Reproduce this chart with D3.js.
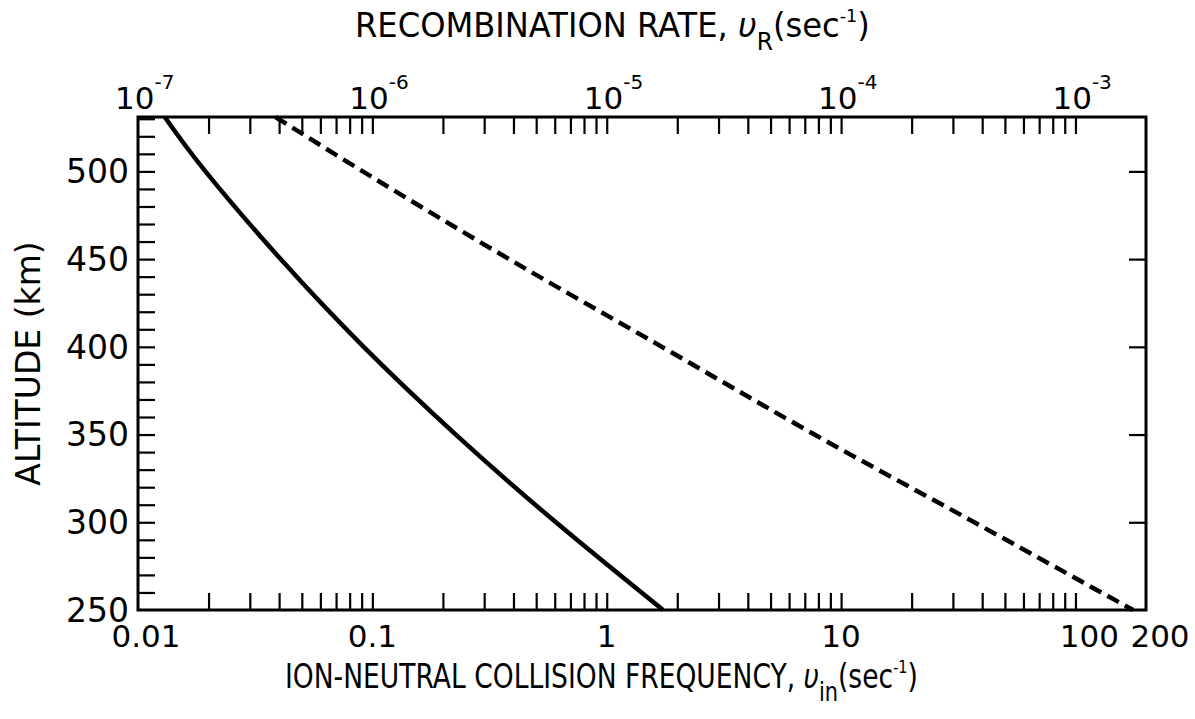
<!DOCTYPE html>
<html>
<head>
<meta charset="utf-8">
<script src="https://cdn.jsdelivr.net/npm/d3@7"></script>
<style>
  html, body { margin: 0; padding: 0; background: #fff; }
  svg { display: block; }
  text { font-family: "DejaVu Sans", sans-serif; fill: #000; }
</style>
</head>
<body>
<svg id="chart" width="1195" height="719"></svg>
<script>
// ---------------- data ----------------
const altitudes = [531, 500, 450, 400, 350, 300, 250];                          // km
const collisionFreq = [0.0130, 0.0194, 0.0406, 0.0918, 0.227, 0.607, 1.74];      // nu_in (sec^-1), solid
const recombRate = [3.86e-7, 9.1e-7, 3.83e-6, 1.72e-5, 7.7e-5, 3.7e-4, 1.76e-3]; // nu_R (sec^-1), dashed
const bottomTickLabels = ["0.01", "0.1", "1", "10", "100", "200"];
const bottomLabelValues = [0.01, 0.1, 1, 10, 100, 200];
const topLabelExponents = [-7, -6, -5, -4, -3];
const yTickLabels = [250, 300, 350, 400, 450, 500];
const yMinorTicks = d3.range(260, 531, 10);
const yRightTicks = [300, 350, 400, 450, 500];

// ---------------- layout ----------------
const L = 138, R = 1146, T = 117, B = 610;
const svg = d3.select("#chart");

const x = d3.scaleLog().domain([0.01, 200]).range([L, R]);
const xTop = d3.scaleLog().domain([1e-7, 2e-3]).range([L, R]);
const y = d3.scaleLinear().domain([250, 531]).range([B, T]);

const tickLen = 17;

const bottomTicks = x.ticks().filter(v => v > 0.0100001 && v < 199.9);
const gB = svg.append("g").attr("transform", `translate(0,${B})`)
  .call(d3.axisBottom(x).tickValues(bottomTicks).tickSize(-tickLen).tickFormat(""));
const topTicks = xTop.ticks().filter(v => v > 1.00001e-7 && v < 1.999e-3);
const gT = svg.append("g").attr("transform", `translate(0,${T})`)
  .call(d3.axisTop(xTop).tickValues(topTicks).tickSize(-tickLen).tickFormat(""));
const gL = svg.append("g").attr("transform", `translate(${L},0)`)
  .call(d3.axisLeft(y).tickValues(yMinorTicks).tickSize(-tickLen).tickFormat(""));
const gR = svg.append("g").attr("transform", `translate(${R},0)`)
  .call(d3.axisRight(y).tickValues(yRightTicks).tickSize(-tickLen).tickFormat(""));

[gB, gT, gL, gR].forEach(g => {
  g.select(".domain").remove();
  g.selectAll(".tick line").attr("stroke", "#000").attr("stroke-width", 2.2);
});

svg.append("rect").attr("x", L).attr("y", T).attr("width", R - L).attr("height", B - T)
  .attr("fill", "none").attr("stroke", "#000").attr("stroke-width", 3);

// y labels
svg.append("g").selectAll("text").data(yTickLabels).join("text")
  .attr("x", L - 9).attr("y", d => y(d)).attr("dy", "0.36em")
  .attr("text-anchor", "end").attr("font-size", 33).text(d => d);

// bottom labels
const bottomDx = {"0.01": 8, "100": 14, "200": 14};
svg.append("g").selectAll("text").data(bottomLabelValues).join("text")
  .attr("x", (d, i) => x(d) + (bottomDx[bottomTickLabels[i]] || 0))
  .attr("y", B + 37).attr("text-anchor", "middle").attr("font-size", 31)
  .text((d, i) => bottomTickLabels[i]);

// top labels: 10^exp
const topLab = svg.append("g").selectAll("text").data(topLabelExponents).join("text")
  .attr("x", d => xTop(Math.pow(10, d)) - 23).attr("y", T - 8).attr("font-size", 31);
topLab.append("tspan").text("10");
topLab.append("tspan").attr("font-size", 20).attr("dy", -20).text(d => "-" + Math.abs(d));

// curves
const solid = d3.line().x(d => x(d[0])).y(d => y(d[1])).curve(d3.curveNatural);
svg.append("path").datum(collisionFreq.map((v, i) => [v, altitudes[i]]))
  .attr("d", solid).attr("fill", "none").attr("stroke", "#000").attr("stroke-width", 4.5);

const dashed = d3.line().x(d => xTop(d[0])).y(d => y(d[1])).curve(d3.curveMonotoneY);
svg.append("path").datum(recombRate.map((v, i) => [v, altitudes[i]]))
  .attr("d", dashed).attr("fill", "none").attr("stroke", "#000").attr("stroke-width", 4.5)
  .attr("stroke-dasharray", "13,7");

// titles: horizontally scaled single text elements
const topTitle = svg.append("text").attr("transform", "translate(355,37) scale(0.975,1)").attr("font-size", 33);
topTitle.append("tspan").text("RECOMBINATION RATE, ");
topTitle.append("tspan").attr("font-style", "italic").text("υ");
topTitle.append("tspan").attr("font-size", 24).attr("dy", 13).text("R");
topTitle.append("tspan").attr("dy", -13).text("(sec");
topTitle.append("tspan").attr("font-size", 18).attr("dy", -15).text("-1");
topTitle.append("tspan").attr("dy", 15).text(")");

const botTitle = svg.append("text").attr("transform", "translate(285,688) scale(0.805,1)").attr("font-size", 33);
botTitle.append("tspan").text("ION-NEUTRAL COLLISION FREQUENCY, ");
botTitle.append("tspan").attr("font-style", "italic").text("υ");
botTitle.append("tspan").attr("font-size", 26).attr("dy", 13).text("in");
botTitle.append("tspan").attr("dy", -13).text("(sec");
botTitle.append("tspan").attr("font-size", 18).attr("dy", -15).text("-1");
botTitle.append("tspan").attr("dy", 15).text(")");

svg.append("text").attr("transform", `translate(40,${(T + B) / 2}) rotate(-90)`)
  .attr("text-anchor", "middle").attr("font-size", 33).text("ALTITUDE (km)");
</script>
</body>
</html>
